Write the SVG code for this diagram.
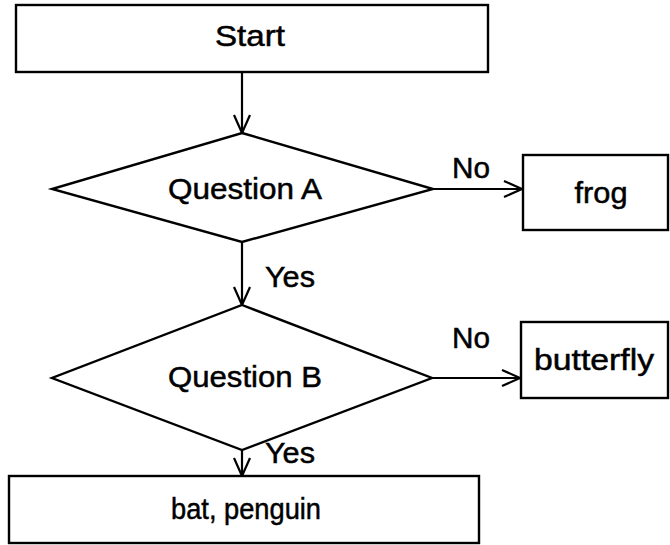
<svg xmlns="http://www.w3.org/2000/svg" width="670" height="545" viewBox="0 0 670 545">
<defs>
<marker id="arr" viewBox="0 0 20 20" refX="19" refY="10" markerWidth="20" markerHeight="20" markerUnits="userSpaceOnUse" orient="auto">
<path d="M1,2 L19,10 L1,18" fill="none" stroke="#000" stroke-width="2.2"/>
</marker>
<style>
.box{fill:#fff;stroke:#000;stroke-width:2.4}
.t{font-family:"Liberation Sans",Arial,sans-serif;font-size:30px;fill:#000;stroke:#000;stroke-width:0.5;text-anchor:middle}
.lbl{font-family:"Liberation Sans",Arial,sans-serif;font-size:30px;fill:#000;stroke:#000;stroke-width:0.5}
.c{fill:none;stroke:#000;stroke-width:2.2}
</style>
</defs>
<rect width="670" height="545" fill="#fff"/>
<g id="connectors">
<line class="c" x1="242" y1="72" x2="242" y2="133" marker-end="url(#arr)"/>
<line class="c" x1="433" y1="189" x2="522" y2="189" marker-end="url(#arr)"/>
<line class="c" x1="242" y1="242" x2="242" y2="305" marker-end="url(#arr)"/>
<line class="c" x1="432" y1="378" x2="520" y2="378" marker-end="url(#arr)"/>
<line class="c" x1="242" y1="450" x2="242" y2="476" marker-end="url(#arr)"/>
<text class="lbl" x="452" y="178" textLength="38" lengthAdjust="spacingAndGlyphs">No</text>
<text class="lbl" x="265" y="287" textLength="50" lengthAdjust="spacingAndGlyphs">Yes</text>
<text class="lbl" x="452" y="348" textLength="38" lengthAdjust="spacingAndGlyphs">No</text>
<text class="lbl" x="265" y="463" textLength="50" lengthAdjust="spacingAndGlyphs">Yes</text>
</g>
<g id="start">
<rect class="box" x="16" y="5" width="472" height="67"/>
<text class="t" x="250" y="46" textLength="70" lengthAdjust="spacingAndGlyphs">Start</text>
</g>
<g id="questionA">
<polygon class="box" points="242,133 433,189 242,242 52,189"/>
<text class="t" x="245" y="199" textLength="154" lengthAdjust="spacingAndGlyphs">Question A</text>
</g>
<g id="frog">
<rect class="box" x="523" y="155" width="145" height="75"/>
<text class="t" x="601" y="203" textLength="53" lengthAdjust="spacingAndGlyphs">frog</text>
</g>
<g id="questionB">
<polygon class="box" points="242,305 432,378 242,450 52,378"/>
<text class="t" x="245" y="387" textLength="154" lengthAdjust="spacingAndGlyphs">Question B</text>
</g>
<g id="butterfly">
<rect class="box" x="521" y="322" width="147" height="76"/>
<text class="t" x="594" y="370" textLength="120" lengthAdjust="spacingAndGlyphs">butterfly</text>
</g>
<g id="batpenguin">
<rect class="box" x="9" y="476" width="470" height="67"/>
<text class="t" x="246" y="519" textLength="150" lengthAdjust="spacingAndGlyphs">bat, penguin</text>
</g>
</svg>
